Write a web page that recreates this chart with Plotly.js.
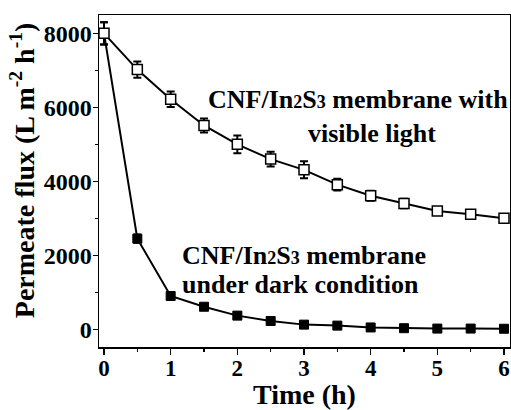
<!DOCTYPE html>
<html>
<head>
<meta charset="utf-8">
<script src="https://cdn.plot.ly/plotly-3.0.1.min.js"></script>
<style>html,body{margin:0;padding:0;background:#fff;}#chart{width:511px;height:410px;}</style>
</head>
<body>
<div id="chart"></div>
<script>
const timeH = [0, 0.5, 1, 1.5, 2, 2.5, 3, 3.5, 4, 4.5, 5, 5.5, 6];
const fluxLight = [8000, 7020, 6220, 5510, 5000, 4600, 4310, 3910, 3610, 3400, 3200, 3110, 3000];
const errLight = [300, 220, 210, 190, 240, 200, 230, 160, 135, 130, 100, 80, 80];
const fluxDark = [8000, 2450, 900, 610, 370, 225, 127, 100, 50, 30, 20, 20, 15];
const errDark = [300, 110, 60, 50, 50, 50, 40, 40, 40, 40, 40, 40, 40];
const xTickVals = [0, 1, 2, 3, 4, 5, 6];
const xTickText = ['0', '1', '2', '3', '4', '5', '6'];
const yTickVals = [0, 2000, 4000, 6000, 8000];
const yTickText = ['0', '2000', '4000', '6000', '8000'];
const xTitle = 'Time (h)';
const yTitle = 'Permeate flux (L m<sup>-2</sup> h<sup>-1</sup>)';
const labelLight1 = 'CNF/In<span style="font-size:18px">2</span>S<span style="font-size:18px">3</span> membrane with';
const labelLight2 = 'visible light';
const labelDark1 = 'CNF/In<span style="font-size:18px">2</span>S<span style="font-size:18px">3</span> membrane';
const labelDark2 = 'under dark condition';

const F = 'Liberation Serif';

const traces = [
  {
    x: timeH, y: fluxDark, type: 'scatter', mode: 'lines+markers',
    line: {color: '#000', width: 2},
    marker: {symbol: 'square', size: 9, color: '#000', line: {color: '#000', width: 1}},
    error_y: {type: 'data', array: errDark, visible: true, color: '#000', thickness: 2, width: 4},
    showlegend: false
  },
  {
    x: timeH, y: fluxLight, type: 'scatter', mode: 'lines+markers',
    line: {color: '#000', width: 2},
    marker: {symbol: 'square', size: 10, color: '#fff', line: {color: '#000', width: 1.5}},
    error_y: {type: 'data', array: errLight, visible: true, color: '#000', thickness: 2, width: 4},
    showlegend: false
  }
];

const annFont = {family: F, size: 26, color: '#000'};
const layout = {
  width: 511, height: 410,
  margin: {l: 99, r: 1, t: 15, b: 63},
  paper_bgcolor: '#fff', plot_bgcolor: '#fff',
  font: {family: F, size: 24, color: '#000'},
  xaxis: {
    range: [-0.075, 6.09],
    tickmode: 'array',
    tickvals: xTickVals,
    ticktext: xTickText.map(function (t) { return '<b>' + t + '</b>'; }),
    ticks: 'outside', ticklen: 6, tickwidth: 1.5, tickcolor: '#000',
    minor: {dtick: 0.5, ticks: 'outside', ticklen: 3, tickwidth: 1.5, tickcolor: '#000'},
    showline: true, linecolor: '#000', linewidth: 1.5, mirror: true,
    showgrid: false, zeroline: false,
    tickfont: {family: F, size: 23, color: '#000'},
    ticklabelstandoff: -6
  },
  yaxis: {
    range: [-478, 8495],
    tickmode: 'array',
    tickvals: yTickVals,
    ticktext: yTickText.map(function (t) { return '<b>' + t + '</b>'; }),
    ticks: 'outside', ticklen: 5, tickwidth: 1.5, tickcolor: '#000',
    minor: {dtick: 1000, ticks: 'outside', ticklen: 3, tickwidth: 1.5, tickcolor: '#000'},
    showline: true, linecolor: '#000', linewidth: 1.5, mirror: true,
    showgrid: false, zeroline: false,
    tickfont: {family: F, size: 24, color: '#000'},
    ticklabelstandoff: -4
  },
  annotations: [
    {x: -0.187, y: 0.53, xref: 'paper', yref: 'paper', xanchor: 'center', yanchor: 'middle', textangle: -90, text: '<b>' + yTitle + '</b>', showarrow: false, font: {family: F, size: 28, color: '#000'}},
    {x: 0.5, y: -0.196, xref: 'paper', yref: 'paper', xanchor: 'center', yanchor: 'bottom', text: '<b>' + xTitle + '</b>', showarrow: false, font: {family: F, size: 28, color: '#000'}},
    {x: 1.53, y: 6200, xref: 'x', yref: 'y', xanchor: 'left', yanchor: 'middle', text: '<b>' + labelLight1 + '</b>', showarrow: false, font: annFont},
    {x: 3.03, y: 5300, xref: 'x', yref: 'y', xanchor: 'left', yanchor: 'middle', text: '<b>' + labelLight2 + '</b>', showarrow: false, font: annFont},
    {x: 1.14, y: 2000, xref: 'x', yref: 'y', xanchor: 'left', yanchor: 'middle', text: '<b>' + labelDark1 + '</b>', showarrow: false, font: annFont},
    {x: 1.14, y: 1200, xref: 'x', yref: 'y', xanchor: 'left', yanchor: 'middle', text: '<b>' + labelDark2 + '</b>', showarrow: false, font: annFont}
  ]
};

Plotly.newPlot('chart', traces, layout, {displayModeBar: false, staticPlot: true});
</script>
</body>
</html>
